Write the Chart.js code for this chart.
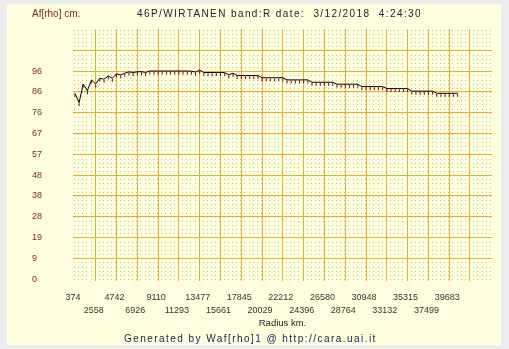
<!DOCTYPE html>
<html><head><meta charset="utf-8">
<script src="https://cdn.jsdelivr.net/npm/chart.js@4"></script>
<style>
html,body{margin:0;padding:0;background:#ececec;}
#wrap{position:relative;width:509px;height:349px;overflow:hidden;}
canvas{position:absolute;left:0;top:0;}
.t{position:absolute;white-space:pre;font-family:"Liberation Sans",Arial,sans-serif;font-size:10px;line-height:12px;}
</style></head><body>
<div id="wrap"><canvas id="c" width="509" height="349"></canvas>
<div class="t" style="left:32px;top:8px;color:#8b1a1a">Af[rho] cm.</div>
<div class="t" style="left:137px;top:8px;color:#20203a;letter-spacing:1.4px">46P/WIRTANEN band:R date:  3/12/2018  4:24:30</div>
<div class="t" style="left:124px;top:333px;color:#1c1c5c;letter-spacing:1.45px">Generated by Waf[rho]1 @ http://cara.uai.it</div>
</div>
<script>
// ---- data ----
const radiusKm = [374,811,1248,1684,2121,2558,2995,3431,3868,4305,4742,5178,5615,6052,6489,6926,7362,7799,8236,8673,
9110,9546,9983,10420,10856,11293,11730,12167,12604,13040,13477,13914,14351,14787,15224,15661,16098,16534,16971,17408,
17845,18282,18718,19155,19592,20029,20465,20902,21339,21776,22212,22649,23086,23523,23960,24396,24833,25270,25707,26143,
26580,27017,27454,27890,28327,28764,29201,29638,30074,30511,30948,31385,31821,32258,32695,33132,33569,34005,34442,34879,
35315,35752,36189,36626,37063,37499,37936,38373,38810,39247,39683,40120,40557];
const afRho = [85.8,81.5,90.1,87.0,92.0,90.1,92.8,92.3,93.8,92.8,94.8,94.3,95.1,95.7,95.4,95.7,95.8,95.4,96.1,96.1,
96.1,96.1,96.1,96.1,96.1,96.1,96.1,96.1,96.0,95.6,96.5,95.4,95.4,95.4,95.4,95.4,95.4,94.3,95.1,94.0,
94.0,94.0,94.0,94.0,94.0,93.0,93.0,93.0,93.0,93.0,93.0,92.0,92.0,92.0,92.0,92.0,92.0,90.9,90.9,90.9,
90.9,90.9,90.9,90.0,90.0,90.0,90.0,90.0,90.0,88.9,88.9,88.9,88.9,88.9,88.9,88.0,88.0,88.0,88.0,88.0,
88.0,86.8,86.8,86.8,86.8,86.8,86.8,85.8,85.8,85.8,85.8,85.8,85.8];
const xTickLabels = ['374','2558','4742','6926','9110','11293','13477','15661','17845','20029','22212','24396','26580','28764','30948','33132','35315','37499','39683'];
const xGridValues = [374,2558,4742,6926,9110,11293,13477,15661,17845,20029,22212,24396,26580,28764,30948,33132,35315,37499,39683,41867];
const yTickLabels = ['0','9','19','28','38','48','57','67','76','86','96',''];
const yGridValues = [0,9.6,19.2,28.8,38.4,48,57.6,67.2,76.8,86.4,96,105.6];

// ---- style ----
const ORANGE = '#eeaa33';
const tickImg = document.createElement('canvas');
tickImg.width = 3; tickImg.height = 9;
(function(){ const g = tickImg.getContext('2d'); g.fillStyle = '#8b0000'; g.fillRect(1,5,1,3); })();

const bgPlugin = {
  id: 'bg',
  beforeDraw(chart) {
    const ctx = chart.ctx;
    ctx.save();
    ctx.fillStyle = '#ececec';
    ctx.fillRect(0,0,chart.width,chart.height);
    ctx.fillStyle = '#ffffe0';
    ctx.fillRect(7,4,494,341);
    // minor dotted lattice
    const xs = chart.scales.x, ys = chart.scales.y;
    ctx.fillStyle = '#c4c0a4';
    const xStep = (xGridValues[1]-xGridValues[0])/5, yStep = (yGridValues[1]-yGridValues[0])/5;
    for (let i = 0; ; i++) {
      const xv = xGridValues[0] + i*xStep;
      if (xv > xs.max) break;
      const px = Math.round(xs.getPixelForValue(xv)) - 1;
      for (let j = 0; ; j++) {
        const yv = yGridValues[0] + j*yStep;
        if (yv > ys.max) break;
        const py = Math.round(ys.getPixelForValue(yv));
        ctx.fillRect(px, py, 1, 1);
      }
    }
    ctx.restore();
  }
};

const data = radiusKm.map((x,i)=>({x:x, y:afRho[i]}));

new Chart(document.getElementById('c'), {
  type: 'line',
  data: { datasets: [{
    data: data,
    borderColor: '#000000',
    borderWidth: 1,
    pointStyle: tickImg,
    pointRadius: 3,
    pointHoverRadius: 3,
    tension: 0,
    fill: false
  }]},
  options: {
    responsive: false,
    animation: false,
    devicePixelRatio: 1,
    events: [],
    layout: { padding: { left: 32, right: 17, top: 29, bottom: 0 } },
    plugins: { legend: { display: false }, tooltip: { enabled: false }, title: { display: false } },
    scales: {
      x: {
        type: 'linear',
        min: 174, max: 44178,
        afterBuildTicks: s => { s.ticks = xGridValues.map(v => ({ value: v })); },
        afterFit: s => { s.height = 68; },
        border: { display: false },
        grid: { drawTicks: false, lineWidth: 1, color: c => (c.index === 0 ? 'rgba(0,0,0,0)' : ORANGE) },
        ticks: {
          autoSkip: false, maxRotation: 0, minRotation: 0,
          padding: 9.5, labelOffset: -2,
          color: '#333333',
          font: { family: '"Liberation Sans", Arial, sans-serif', size: 9, lineHeight: 1.49 },
          callback: (v, i) => {
            if (i >= xTickLabels.length) return '';
            return i % 2 === 0 ? [xTickLabels[i], ''] : ['', xTickLabels[i]];
          }
        },
        title: {
          display: true, text: 'Radius km.', color: '#222222',
          font: { family: '"Liberation Sans", Arial, sans-serif', size: 9.5, lineHeight: 1.2 },
          padding: { top: 0, bottom: 20 }
        }
      },
      y: {
        type: 'linear',
        min: -0.9, max: 115.5,
        afterBuildTicks: s => { s.ticks = yGridValues.map(v => ({ value: v })); },
        afterFit: s => { s.width = 41; },
        border: { display: false },
        grid: { drawTicks: false, lineWidth: 1, color: c => (c.index === 0 ? 'rgba(0,0,0,0)' : ORANGE) },
        ticks: {
          crossAlign: 'far',
          color: '#7a1f1f',
          font: { family: '"Liberation Sans", Arial, sans-serif', size: 9 },
          callback: (v, i) => yTickLabels[i]
        }
      }
    }
  },
  plugins: [bgPlugin]
});
</script>
</body></html>
